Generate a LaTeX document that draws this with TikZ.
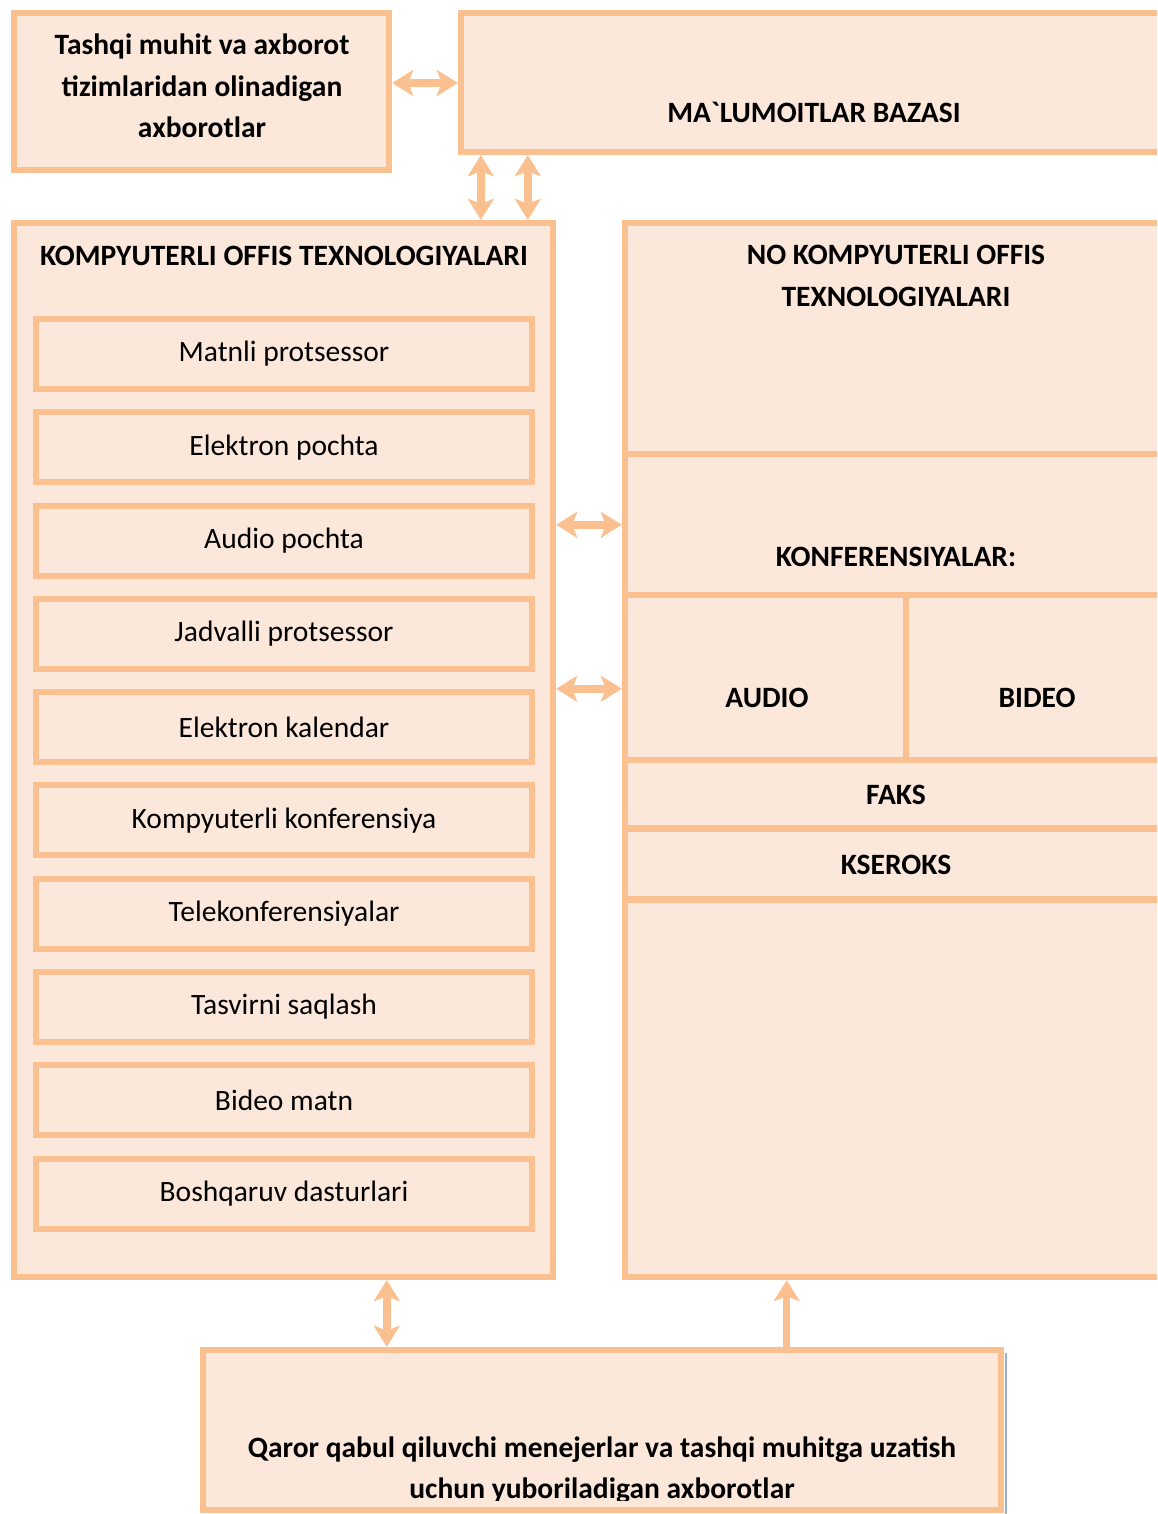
\documentclass[tikz,border=0pt]{standalone}
\usepackage{fontspec}
\setmainfont{Carlito}
\usetikzlibrary{positioning,arrows.meta}
\definecolor{peach}{HTML}{FAC090}
\definecolor{peachfill}{HTML}{FCE8DA}
\definecolor{shadowgrey}{HTML}{9DB0C2}

\begin{document}
\begin{tikzpicture}[x=0.02cm, y=-0.02cm,
    box/.style={rectangle, draw=peach, fill=peachfill, line width=0.13cm, inner sep=0pt},
    item/.style={box, line width=0.12cm, minimum width=9.92cm, minimum height=1.4cm,
        font=\fontsize{16.8}{19}\selectfont},
    head/.style={font=\bfseries\fontsize{16.8}{23.5}\selectfont, align=center},
    divider/.style={draw=peach, line width=0.13cm},
    arr/.style={draw=peach, line width=0.15cm, >={Stealth[length=0.42cm,width=0.52cm,inset=0.1cm]}},
    node distance=1.866cm]
    \path[use as bounding box] (0,0) rectangle (1157,1514);
    \clip (0,0) rectangle (1157,1514);

    % top row
    \node[box, minimum width=7.5cm, minimum height=3.14cm] (ext) at (201.5,91.5) {};
    \node[head] (exttext) at (202,86) {Tashqi muhit va axborot\\tizimlaridan olinadigan\\axborotlar};
    \node[box, minimum width=14.12cm, minimum height=2.78cm] (db) at (814,82.5) {};
    \node[head] (dbtext) at (814,112) {MA\textasciigrave LUMOITLAR BAZASI};

    % computer office technologies
    \node[box, minimum width=10.78cm, minimum height=21.08cm] (comp) at (283.5,750) {};
    \node[head] (comptitle) at (284,256) {KOMPYUTERLI OFFIS TEXNOLOGIYALARI};
    \node[item] (i1) at (284,354) {Matnli protsessor};
    \node[item, below of=i1] (i2) {Elektron pochta};
    \node[item, below of=i2] (i3) {Audio pochta};
    \node[item, below of=i3] (i4) {Jadvalli protsessor};
    \node[item, below of=i4] (i5) {Elektron kalendar};
    \node[item, below of=i5] (i6) {Kompyuterli konferensiya};
    \node[item, below of=i6] (i7) {Telekonferensiyalar};
    \node[item, below of=i7] (i8) {Tasvirni saqlash};
    \node[item, below of=i8] (i9) {Bideo matn};
    \node[item, below of=i9] (i10) {Boshqaruv dasturlari};

    % non computer office technologies
    \node[box, minimum width=10.84cm, minimum height=21.08cm] (noncomp) at (896,750) {};
    \draw[divider] ([yshift=-4.68cm]noncomp.north west) -- ([yshift=-4.68cm]noncomp.north east);
    \draw[divider] ([yshift=-7.5cm]noncomp.north west) -- ([yshift=-7.5cm]noncomp.north east);
    \draw[divider] ([yshift=-10.8cm]noncomp.north west) -- ([yshift=-10.8cm]noncomp.north east);
    \draw[divider] ([yshift=-12.18cm]noncomp.north west) -- ([yshift=-12.18cm]noncomp.north east);
    \draw[divider] ([yshift=-13.6cm]noncomp.north west) -- ([yshift=-13.6cm]noncomp.north east);
    \draw[divider] ([xshift=5.68cm,yshift=-7.5cm]noncomp.north west) -- ([xshift=5.68cm,yshift=-10.8cm]noncomp.north west);
    \node[head] (noncomptitle) at (896,276) {NO KOMPYUTERLI OFFIS\\TEXNOLOGIYALARI};
    \node[head] (konf) at (896,557) {KONFERENSIYALAR:};
    \node[head] (audio) at (767,698) {AUDIO};
    \node[head] (bideo) at (1037,698) {BIDEO};
    \node[head] (faks) at (896,795) {FAKS};
    \node[head] (kseroks) at (896,865) {KSEROKS};

    % outgoing information
    \draw[shadowgrey, line width=0.04cm] (1006,1353) -- (1006,1514);
    \node[box, minimum width=15.96cm, minimum height=3.2cm] (out) at (602,1430) {};
    \begin{scope}
        \clip (0,0) rectangle (1157,1500);
        \node[head] (outtext) at (602,1470) {Qaror qabul qiluvchi menejerlar va tashqi muhitga uzatish\\uchun yuboriladigan axborotlar};
    \end{scope}

    % arrows
    \draw[arr, <->] ([yshift=0.17cm]ext.east) -- ([yshift=0.17cm]ext.east -| db.west);
    \draw[arr, <->] ([xshift=0.46cm]db.south west) -- ([xshift=0.46cm]db.south west |- comp.north);
    \draw[arr, <->] ([xshift=1.4cm]db.south west) -- ([xshift=1.4cm]db.south west |- comp.north);
    \draw[arr, <->] ([yshift=-6.1cm]comp.north east) -- ([yshift=-6.1cm]comp.north east -| noncomp.west);
    \draw[arr, <->] ([yshift=-9.38cm]comp.north east) -- ([yshift=-9.38cm]comp.north east -| noncomp.west);
    \draw[arr, <->] ([xshift=3.74cm]out.north west) -- ([xshift=3.74cm]out.north west |- comp.south);
    \draw[arr, ->] ([xshift=11.74cm]out.north west) -- ([xshift=11.74cm]out.north west |- noncomp.south);
\end{tikzpicture}
\end{document}
